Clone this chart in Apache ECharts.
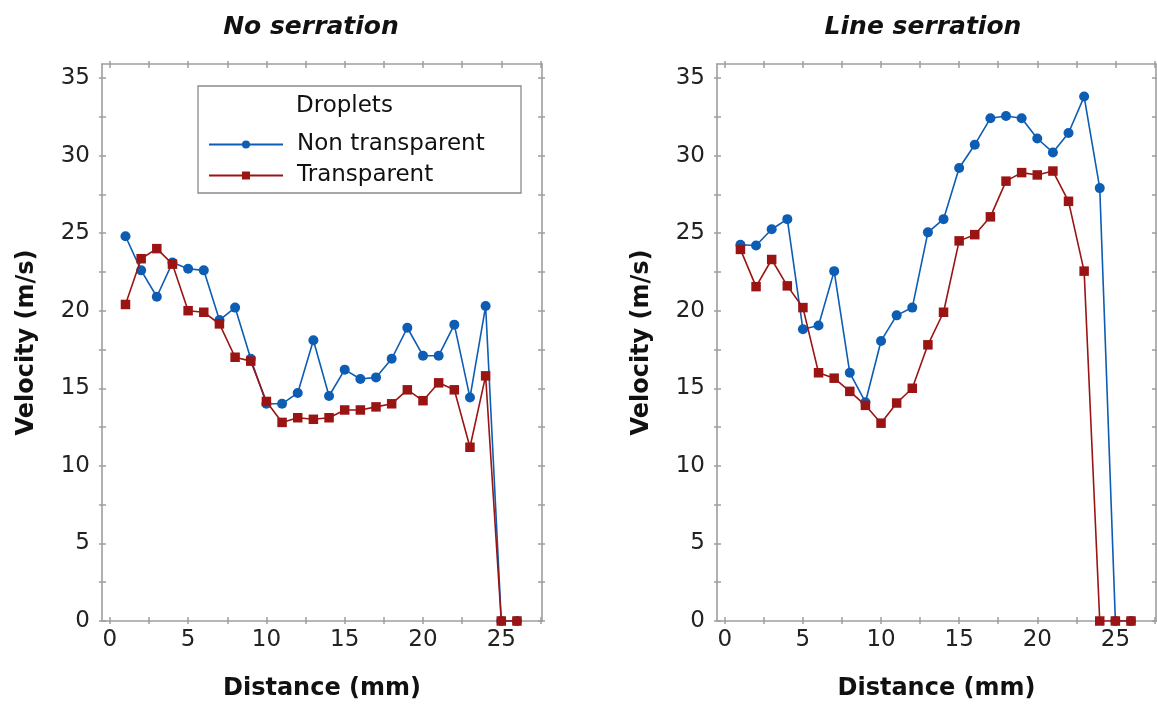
<!DOCTYPE html>
<html><head><meta charset="utf-8">
<script src="https://cdn.jsdelivr.net/npm/echarts@6/dist/echarts.min.js"></script>
<style>html,body{margin:0;padding:0;background:#fff}#c{width:1157px;height:704px}</style>
</head><body><div id="c"></div>
<script>
// ---- data ----
const distance = [1,2,3,4,5,6,7,8,9,10,11,12,13,14,15,16,17,18,19,20,21,22,23,24,25,26];
const noSerrNonTransparent = [24.8,22.6,20.9,23.1,22.7,22.6,19.4,20.2,16.9,14.0,14.0,14.7,18.1,14.5,16.2,15.6,15.7,16.9,18.9,17.1,17.1,19.1,14.4,20.3,0,0];
const noSerrTransparent    = [20.4,23.35,24.0,23.0,20.0,19.9,19.15,17.0,16.75,14.15,12.8,13.1,13.0,13.1,13.6,13.6,13.8,14.0,14.9,14.2,15.35,14.9,11.2,15.8,0,0];
const lineSerrNonTransparent = [24.25,24.2,25.25,25.9,18.8,19.05,22.55,16.0,14.1,18.05,19.7,20.2,25.05,25.9,29.2,30.7,32.4,32.55,32.4,31.1,30.2,31.45,33.8,27.9,0,0];
const lineSerrTransparent    = [23.95,21.55,23.3,21.6,20.2,16.0,15.65,14.8,13.9,12.75,14.05,15.0,17.8,19.9,24.5,24.9,26.05,28.35,28.9,28.75,29.0,27.05,22.55,0,0,0];
const panelTitles = ['No serration','Line serration'];
const seriesNames = ['Non transparent','Transparent'];
const legendTitle = 'Droplets';
const xName = 'Distance (mm)';
const yName = 'Velocity (m/s)';
const xLabels = [0,5,10,15,20,25];
const xTicks = [0,2.5,5,7.5,10,12.5,15,17.5,20,22.5,25,27.5];
const yLabels = [0,5,10,15,20,25,30,35];
const yTicks = [0,2.5,5,7.5,10,12.5,15,17.5,20,22.5,25,27.5,30,32.5,35];

const FONT = "'DejaVu Sans', Verdana, sans-serif";
const BLUE = '#0c5db3', RED = '#9b1414', AX = '#9e9e9e';
const pairs = (ys) => distance.map((d,i)=>[d, ys[i]]);
const XMIN = -0.5, XMAX = 27.6, YMIN = 0, YMAX = 35.9;

const grids = [
  {left:102, top:64, width:440, height:557, containLabel:false, outerBoundsMode:'none'},
  {left:717, top:64, width:439, height:557, containLabel:false, outerBoundsMode:'none'}
];

// kind: 'main' (line + inner ticks + labels/name), 'out' (outer tick half only)
function xAx(gi, pos, kind) {
  const main = kind === 'main';
  const labeled = main && pos === 'bottom';
  return {
    type:'value', gridIndex:gi, position:pos, min:XMIN, max:XMAX,
    axisLine:{show:main, onZero:false, lineStyle:{color:AX, width:1.6}},
    axisTick:{show:true, inside:main, length:main?4:3, lineStyle:{color:AX, width:1.5}, customValues:xTicks},
    axisLabel:{show:labeled, customValues:xLabels, fontSize:23, color:'#222', fontFamily:FONT, margin:8},
    splitLine:{show:false},
    name: labeled ? xName : '', nameLocation:'middle', nameGap:56,
    nameTextStyle:{fontSize:24, fontWeight:'bold', color:'#111', fontFamily:FONT}
  };
}
function yAx(gi, pos, kind) {
  const main = kind === 'main';
  const labeled = main && pos === 'left';
  return {
    type:'value', gridIndex:gi, position:pos, min:YMIN, max:YMAX,
    axisLine:{show:main, onZero:false, lineStyle:{color:AX, width:1.6}},
    axisTick:{show:true, inside:main, length:main?4:3, lineStyle:{color:AX, width:1.5}, customValues:yTicks},
    axisLabel:{show:labeled, customValues:yLabels, fontSize:23, color:'#222', fontFamily:FONT, margin:12},
    splitLine:{show:false},
    name: labeled ? yName : '', nameLocation:'middle', nameGap:63, nameRotate:90,
    nameTextStyle:{fontSize:24, fontWeight:'bold', color:'#111', fontFamily:FONT}
  };
}

function lineSeries(name, ys, gi, color, symbol) {
  return {
    type:'line', name, data:pairs(ys), xAxisIndex:gi, yAxisIndex:gi,
    symbol, symbolSize: symbol==='circle' ? 10 : 9.5,
    lineStyle:{color, width:1.6}, itemStyle:{color},
    emphasis:{disabled:true}, animation:false, z: symbol==='circle'?2:3
  };
}

const xAxes = [xAx(0,'bottom','main'), xAx(1,'bottom','main')];
const yAxes = [yAx(0,'left','main'), yAx(1,'left','main')];
[0,1].forEach(g => {
  xAxes.push(xAx(g,'top','main'), xAx(g,'bottom','out'), xAx(g,'top','out'));
  yAxes.push(yAx(g,'right','main'), yAx(g,'left','out'), yAx(g,'right','out'));
});

const chart = echarts.init(document.getElementById('c'));
chart.setOption({
  backgroundColor:'#fff',
  animation:false,
  grid:grids,
  xAxis:xAxes,
  yAxis:yAxes,
  title:[
    {text:panelTitles[0], left:306, top:10, textAlign:'center', textStyle:{fontSize:25, fontWeight:'bold', fontStyle:'italic', color:'#111', fontFamily:FONT}},
    {text:panelTitles[1], left:918, top:10, textAlign:'center', textStyle:{fontSize:25, fontWeight:'bold', fontStyle:'italic', color:'#111', fontFamily:FONT}}
  ],
  legend:{
    data:seriesNames, orient:'vertical', left:203, top:128,
    itemWidth:74, itemHeight:10, itemGap:8,
    textStyle:{fontSize:23, color:'#111', fontFamily:FONT, padding:[0,0,0,9]},
    selectedMode:false
  },
  graphic:[
    {type:'rect', shape:{x:198, y:86, width:323, height:107}, style:{fill:'#fff', stroke:'#8a8a8a', lineWidth:1.3}, z:0},
    {type:'text', left:296, top:95, style:{text:legendTitle, fontSize:23, fill:'#111', fontFamily:FONT}, z:5}
  ],
  series:[
    lineSeries(seriesNames[0], noSerrNonTransparent, 0, BLUE, 'circle'),
    lineSeries(seriesNames[1], noSerrTransparent, 0, RED, 'rect'),
    lineSeries(seriesNames[0], lineSerrNonTransparent, 1, BLUE, 'circle'),
    lineSeries(seriesNames[1], lineSerrTransparent, 1, RED, 'rect')
  ]
});
</script>
</body></html>
